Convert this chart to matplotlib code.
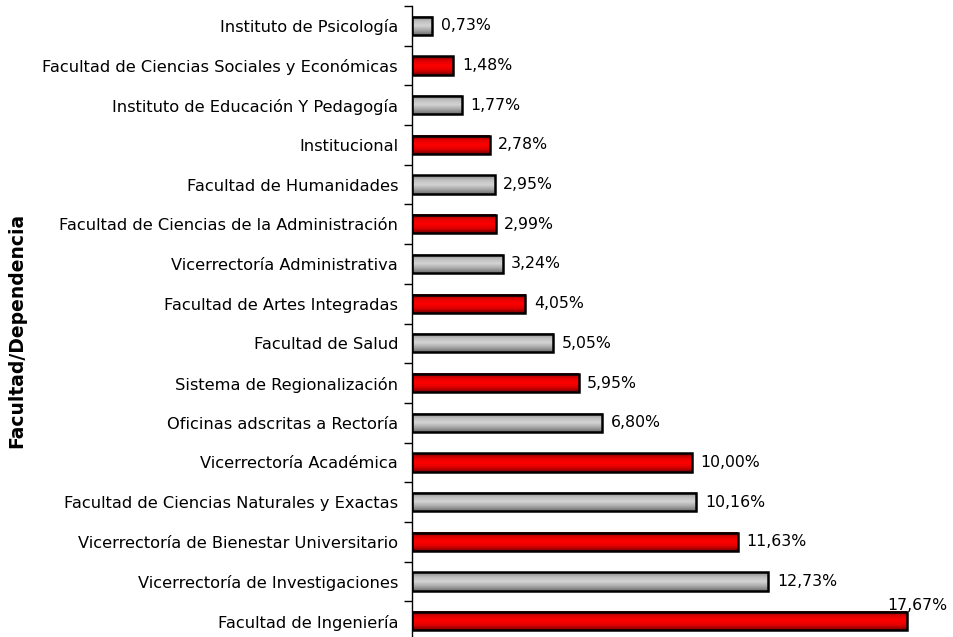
import matplotlib.pyplot as plt
import numpy as np
from matplotlib.colors import LinearSegmentedColormap

categories = [
    "Instituto de Psicología",
    "Facultad de Ciencias Sociales y Económicas",
    "Instituto de Educación Y Pedagogía",
    "Institucional",
    "Facultad de Humanidades",
    "Facultad de Ciencias de la Administración",
    "Vicerrectoría Administrativa",
    "Facultad de Artes Integradas",
    "Facultad de Salud",
    "Sistema de Regionalización",
    "Oficinas adscritas a Rectoría",
    "Vicerrectoría Académica",
    "Facultad de Ciencias Naturales y Exactas",
    "Vicerrectoría de Bienestar Universitario",
    "Vicerrectoría de Investigaciones",
    "Facultad de Ingeniería",
]
values = [0.73, 1.48, 1.77, 2.78, 2.95, 2.99, 3.24, 4.05, 5.05, 5.95,
          6.80, 10.00, 10.16, 11.63, 12.73, 17.67]
kinds = ["gray", "red"] * 8

cmaps = {
    "red": LinearSegmentedColormap.from_list(
        "r", ["#7a0000", "#e00000", "#ff0000", "#e00000", "#7a0000"]),
    "gray": LinearSegmentedColormap.from_list(
        "g", ["#858585", "#bdbdbd", "#d4d4d4", "#a8a8a8", "#6e6e6e"]),
}

W, H = 954, 637
fig = plt.figure(figsize=(W / 100, H / 100), dpi=100)
# axes spans past the bottom edge, like the cropped original
ax = fig.add_axes([412 / W, -4 / H, (W - 412) / W, (H - 6 + 4) / H])

n = len(categories)
y = np.arange(n)
ax.set_ylim(n - 0.5, -0.5)
ax.set_xlim(0, (W - 412) / 28.0)

bars = ax.barh(y, values, height=0.46, facecolor="none", edgecolor="black",
               linewidth=1.8, zorder=3)

grad = np.linspace(0, 1, 64).reshape(-1, 1)
for bar, kind in zip(bars, kinds):
    x0, y0 = bar.get_x(), bar.get_y()
    w, h = bar.get_width(), bar.get_height()
    ax.imshow(grad, cmap=cmaps[kind], aspect="auto", zorder=2,
              extent=(x0, x0 + w, y0 + h, y0), interpolation="bilinear")

for i, v in enumerate(values):
    label = f"{v:.2f}%".replace(".", ",")
    if i == n - 1:
        ax.annotate(label, (v, i), xytext=(-14, 11), textcoords="offset points",
                    ha="left", va="center", fontsize=11.3, annotation_clip=False)
    else:
        ax.annotate(label, (v, i), xytext=(6, 0), textcoords="offset points",
                    ha="left", va="center", fontsize=11.3)

ax.set_yticks(y)
ax.set_yticklabels(categories, fontsize=11.7)
ax.set_yticks(np.arange(-0.5, n, 1), minor=True)
ax.tick_params(axis="y", which="major", length=0, pad=10)
ax.tick_params(axis="y", which="minor", length=6, width=1, color="black")
ax.set_xticks([])
for side in ["top", "right", "bottom"]:
    ax.spines[side].set_visible(False)
ax.spines["left"].set_linewidth(1)

fig.text(17 / W, 1 - 330 / H, "Facultad/Dependencia", rotation=90,
         ha="center", va="center", fontsize=13.5, fontweight="bold")

fig.savefig("out.png", dpi=100)
